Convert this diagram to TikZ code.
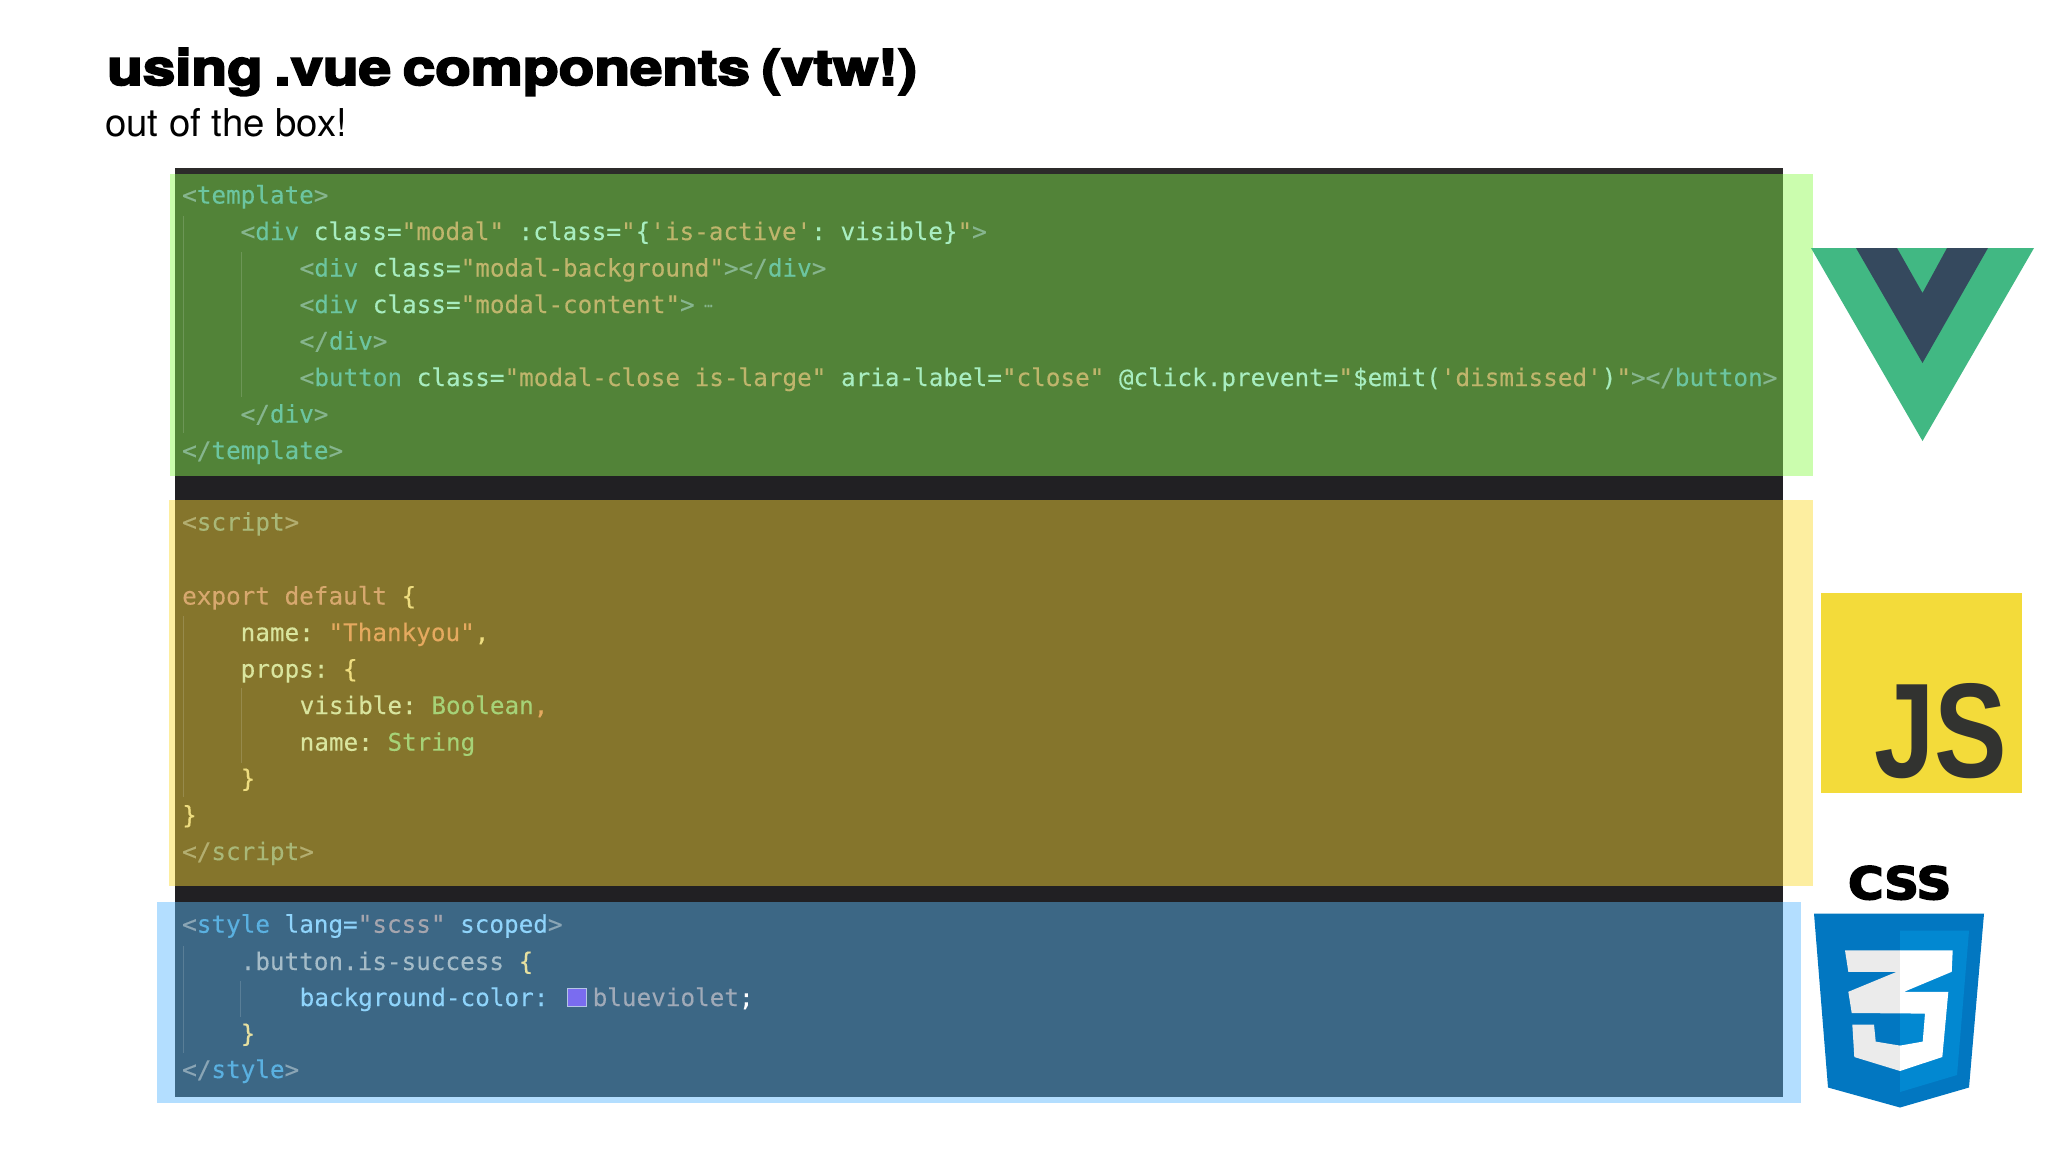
\documentclass[tikz,border=0pt]{standalone}
\usepackage{fontspec}
\usepackage{graphicx}
\newfontfamily\codefont{DejaVu Sans Mono}[FakeBold=0.25]
\newfontfamily\titlefont{TeX Gyre Heros}[BoldFeatures={FakeBold=3.5}]
\newfontfamily\subfont{TeX Gyre Heros}
\newfontfamily\jsfont{Liberation Sans}
\newfontfamily\cssfont{DejaVu Sans}[BoldFeatures={FakeBold=4}]
\definecolor{bgdark}{HTML}{212023}
\definecolor{bgtop}{HTML}{2C2B2A}
\definecolor{gdark}{HTML}{528338}
\definecolor{glight}{HTML}{CBFDAE}
\definecolor{ydark}{HTML}{85752C}
\definecolor{ylight}{HTML}{FDEEA0}
\definecolor{bdark}{HTML}{3C6785}
\definecolor{blight}{HTML}{B3DEFF}
\definecolor{gp}{HTML}{86B58E}
\definecolor{gt}{HTML}{6CC5A0}
\definecolor{ga}{HTML}{A8EDC0}
\definecolor{gs}{HTML}{BFB56C}
\definecolor{yp}{HTML}{B3AE70}
\definecolor{yt}{HTML}{A9B878}
\definecolor{yk}{HTML}{D7A86E}
\definecolor{yb}{HTML}{EEDD80}
\definecolor{ya}{HTML}{D9E59E}
\definecolor{ys}{HTML}{E5A95F}
\definecolor{yn}{HTML}{A6D277}
\definecolor{bp}{HTML}{8AA5B5}
\definecolor{bt}{HTML}{5AB0E0}
\definecolor{ba}{HTML}{8FD4FB}
\definecolor{bs}{HTML}{A5A5AE}
\definecolor{bc}{HTML}{A5BCC8}
\definecolor{bb}{HTML}{E6E0A0}
\definecolor{bv}{HTML}{A0AAB8}
\newcommand\tc[2]{\textcolor{#1}{#2}}
\tikzset{
  code/.style={anchor=base west,inner sep=0pt,font=\codefont\fontsize{24.3}{24.3}\selectfont\frenchspacing},
  guide/.style={line width=1pt},
}
\begin{document}
\begin{tikzpicture}[x=1pt,y=-1pt]
\useasboundingbox (0,0) rectangle (2048,1152);
\fill[white] (0,0) rectangle (2048,1152);
% title
\node[anchor=base west,inner sep=0pt] (title) at (107,85) {\resizebox{810pt}{37pt}{\titlefont\fontsize{47}{47}\selectfont\bfseries\spaceskip=0.2em using .vue components (vtw!)}};
\node[anchor=base west,inner sep=0pt] (sub) at (105,136) {\resizebox{242pt}{!}{\subfont\fontsize{37}{37}\selectfont out of the box!}};
% panels
\fill[bgdark] (175,168) rectangle (1783,1097);
\fill[bgtop] (175,168) rectangle (1783,174);
\fill[glight] (170,174) rectangle (1813,476);
\fill[gdark] (175,174) rectangle (1783,476);
\fill[ylight] (169,500) rectangle (1813,886);
\fill[ydark] (175,500) rectangle (1783,886);
\fill[blight] (157,902) rectangle (1801,1102.5);
\fill[bdark] (175,902) rectangle (1783,1097);
% guides
\draw[guide,color=gdark!85!white] (183,216) -- (183,433);
\draw[guide,color=gdark!85!white] (241,252) -- (241,397);
\draw[guide,color=ydark!85!white] (183,616) -- (183,797);
\draw[guide,color=ydark!85!white] (241,688) -- (241,763);
\draw[guide,color=bdark!85!white] (183,946) -- (183,1053);
\draw[guide,color=bdark!85!white] (240.5,981) -- (240.5,1017);
% template
\node[code] (t1) at (182,203.5) {\tc{gp}{<}\tc{gt}{template}\tc{gp}{>}};
\node[code] (t2) at (240.5,240) {\tc{gp}{<}\tc{gt}{div} \tc{ga}{class=}\tc{gs}{"modal"} \tc{ga}{:class=}\tc{gs}{"}\tc{ga}{\{}\tc{gs}{'is-active'}\tc{ga}{: visible\}}\tc{gs}{"}\tc{gp}{>}};
\node[code] (t3) at (299.5,276.5) {\tc{gp}{<}\tc{gt}{div} \tc{ga}{class=}\tc{gs}{"modal-background"}\tc{gp}{></}\tc{gt}{div}\tc{gp}{>}};
\node[code] (t4) at (299.5,313) {\tc{gp}{<}\tc{gt}{div} \tc{ga}{class=}\tc{gs}{"modal-content"}\tc{gp}{>}};
\node[anchor=base west,inner sep=0pt,font=\codefont\fontsize{14}{14}\selectfont,text=gp] (t4b) at (704,307) {…};
\node[code] (t5) at (299.5,349.5) {\tc{gp}{</}\tc{gt}{div}\tc{gp}{>}};
\node[code] (t6) at (299.5,386) {\tc{gp}{<}\tc{gt}{button} \tc{ga}{class=}\tc{gs}{"modal-close is-large"} \tc{ga}{aria-label=}\tc{gs}{"close"} \tc{ga}{@click.prevent=}\tc{gs}{"}\tc{ga}{\$emit(}\tc{gs}{'dismissed'}\tc{ga}{)}\tc{gs}{"}\tc{gp}{></}\tc{gt}{button}\tc{gp}{>}};
\node[code] (t7) at (240.5,422.5) {\tc{gp}{</}\tc{gt}{div}\tc{gp}{>}};
\node[code] (t8) at (182,459) {\tc{gp}{</}\tc{gt}{template}\tc{gp}{>}};
% script
\node[code] (s1) at (182,530.5) {\tc{yp}{<}\tc{yt}{script}\tc{yp}{>}};
\node[code] (s2) at (182,604.5) {\tc{yk}{export default} \tc{yb}{\{}};
\node[code] (s3) at (240.5,641) {\tc{ya}{name:} \tc{ys}{"Thankyou"}\tc{yb}{,}};
\node[code] (s4) at (240.5,677.5) {\tc{ya}{props:} \tc{yb}{\{}};
\node[code] (s5) at (299.5,714) {\tc{ya}{visible:} \tc{yn}{Boolean}\tc{ys}{,}};
\node[code] (s6) at (299.5,750.7) {\tc{ya}{name:} \tc{yn}{String}};
\node[code] (s7) at (240.5,787) {\tc{yb}{\}}};
\node[code] (s8) at (182,823.5) {\tc{yb}{\}}};
\node[code] (s9) at (182,860) {\tc{yp}{</}\tc{yt}{script}\tc{yp}{>}};
% style
\node[code] (c1) at (182,932.7) {\tc{bp}{<}\tc{bt}{style} \tc{ba}{lang=}\tc{bs}{"scss"} \tc{ba}{scoped}\tc{bp}{>}};
\node[code] (c2) at (240.5,970) {\tc{bc}{.button.is-success} \tc{bb}{\{}};
\node[code] (c3) at (299.5,1006) {\tc{ba}{background-color:}};
\node[draw={rgb,255:red,181;green,197;blue,229},fill={rgb,255:red,122;green,108;blue,240},line width=1pt,minimum width=19pt,minimum height=18pt,inner sep=0pt,anchor=center] (swatch) at (577.3,997.2) {};
\node[code] (c3b) at (592.5,1006) {\tc{bv}{blueviolet}\tc{white}{;}};
\node[code] (c4) at (240.5,1042) {\tc{bb}{\}}};
\node[code] (c5) at (182,1078) {\tc{bp}{</}\tc{bt}{style}\tc{bp}{>}};
% vue logo
\fill[color={rgb,255:red,65;green,184;blue,131}] (1811,248) -- (2034,248) -- (1922.5,441) -- cycle;
\fill[color={rgb,255:red,53;green,73;blue,94}] (1856,248) -- (1897,248) -- (1922.5,293) -- (1947,248) -- (1988,248) -- (1922.5,363) -- cycle;
% js logo
\node[fill={rgb,255:red,243;green,219;blue,58},minimum width=201pt,minimum height=200.5pt,inner sep=0pt,anchor=north west] (jsbox) at (1821,592.5) {};
\node[anchor=base west,inner sep=0pt,text={rgb,255:red,50;green,51;blue,48}] (js) at (1874,777) {\resizebox{133pt}{94pt}{\jsfont\bfseries JS}};
% css logo
\node[anchor=base west,inner sep=0pt] (css) at (1848,899) {\resizebox{103pt}{33pt}{\cssfont\bfseries CSS}};
\fill[color={rgb,255:red,2;green,119;blue,193}] (1814,913.6) -- (1984,913.6) -- (1969,1087.5) -- (1900,1107.5) -- (1828,1087.5) -- cycle;
\fill[color={rgb,255:red,2;green,136;blue,209}] (1900,930.7) -- (1969,930.7) -- (1957,1075) -- (1900,1092) -- cycle;
\def\threepath{(1845,950.4) -- (1952.7,950.4) -- (1951.7,971.8) -- (1904,991.8) -- (1948.3,991.8) -- (1942.3,1057) -- (1900,1071) -- (1854.3,1057) -- (1852.3,1024.5) -- (1874,1024.5) -- (1875.7,1041.6) -- (1900,1045.6) -- (1922.7,1041.6) -- (1925,1013.6) -- (1851.7,1013) -- (1848.3,991.8) -- (1896.7,971.8) -- (1848.3,971.8) -- cycle}
\begin{scope}
\clip (1800,900) rectangle (1900,1110);
\fill[color={rgb,255:red,235;green,235;blue,235}] \threepath;
\end{scope}
\begin{scope}
\clip (1900,900) rectangle (2000,1110);
\fill[white] \threepath;
\end{scope}
\end{tikzpicture}
\end{document}
